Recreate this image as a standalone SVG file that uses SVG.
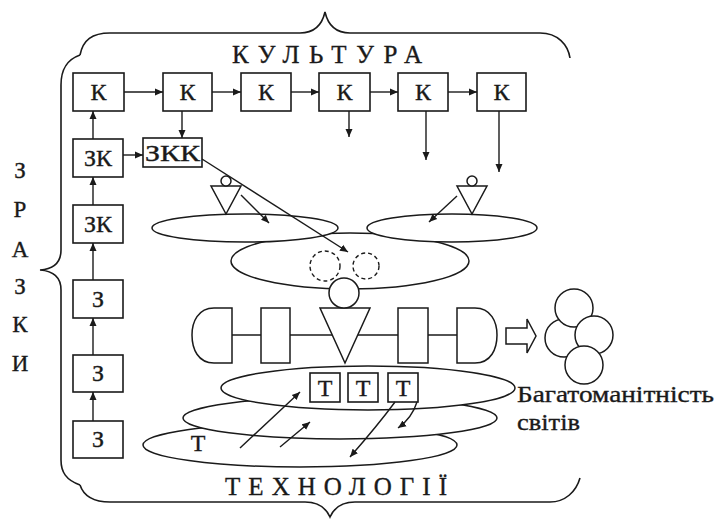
<svg xmlns="http://www.w3.org/2000/svg" width="716" height="519" viewBox="0 0 716 519">
  <defs>
    <marker id="ah" markerUnits="userSpaceOnUse" markerWidth="9" markerHeight="8" refX="8" refY="4" orient="auto">
      <path d="M0,0.5 L8,4 L0,7.5 Z" fill="#1a1a1a"/>
    </marker>
    <style>
      .ln { stroke: #1a1a1a; stroke-width: 1.4; fill: none; }
      .bx { stroke: #1a1a1a; stroke-width: 1.6; fill: #fff; }
      .sh { stroke: #1a1a1a; stroke-width: 1.5; fill: #fff; }
      .dash { stroke: #1a1a1a; stroke-width: 1.4; fill: none; stroke-dasharray: 4 3; }
      .br { stroke: #1a1a1a; stroke-width: 1.6; fill: none; }
      text { font-family: 'Liberation Serif', 'Times New Roman', serif; fill: #1a1a1a; stroke: #1a1a1a; stroke-width: 0.35; }
      .lbl { font-size: 24px; text-anchor: middle; }
      .ttl { font-size: 25px; }
      .side { font-size: 23px; text-anchor: middle; }
    </style>
  </defs>

  <!-- braces -->
  <g id="braces">
    <path class="br" d="M80,55 C83,40 92,33 110,33 L300,33 C315,33 322,25 325,12 C328,25 335,33 350,33 L540,33 C558,33 568,45 570,58"/>
    <path class="br" d="M80,55 C66,60 61,70 61,85 L61,250 C61,262 54,269 40,270 C54,271 61,278 61,290 L61,460 C61,472 66,480 80,485"/>
    <path class="br" d="M80,485 C84,497 95,502 110,502 L305,502 C318,502 326,508 330,517 C334,508 342,502 355,502 L550,502 C565,502 576,492 580,478"/>
  </g>

  <!-- titles -->
  <g id="titles">
    <text class="ttl" x="232" y="63" textLength="190" lengthAdjust="spacing">КУЛЬТУРА</text>
    <text class="ttl" x="225" y="495" textLength="222" lengthAdjust="spacing">ТЕХНОЛОГІЇ</text>
    <text class="side" x="20" y="178">З</text>
    <text class="side" x="20" y="217">Р</text>
    <text class="side" x="20" y="257">А</text>
    <text class="side" x="20" y="294">З</text>
    <text class="side" x="20" y="332">К</text>
    <text class="side" x="20" y="371">И</text>
  </g>

  <!-- culture row -->
  <g id="k1"><rect class="bx" x="73" y="73" width="51" height="38"/><text class="lbl" x="98.5" y="100">К</text></g>
  <g id="k2"><rect class="bx" x="163" y="73" width="49" height="38"/><text class="lbl" x="187.5" y="100">К</text></g>
  <g id="k3"><rect class="bx" x="241" y="73" width="50" height="38"/><text class="lbl" x="266" y="100">К</text></g>
  <g id="k4"><rect class="bx" x="319" y="73" width="51" height="38"/><text class="lbl" x="344.5" y="100">К</text></g>
  <g id="k5"><rect class="bx" x="398" y="73" width="50" height="38"/><text class="lbl" x="423" y="100">К</text></g>
  <g id="k6"><rect class="bx" x="477" y="73" width="49" height="38"/><text class="lbl" x="501.5" y="100">К</text></g>

  <!-- samples column -->
  <g id="zk1"><rect class="bx" x="73" y="139" width="50" height="38"/><text class="lbl" x="98" y="166">ЗК</text></g>
  <g id="zk2"><rect class="bx" x="73" y="205" width="50" height="38"/><text class="lbl" x="98" y="232">ЗК</text></g>
  <g id="z1"><rect class="bx" x="73" y="280" width="50" height="38"/><text class="lbl" x="98" y="307">З</text></g>
  <g id="z2"><rect class="bx" x="73" y="355" width="50" height="37"/><text class="lbl" x="98" y="381">З</text></g>
  <g id="z3"><rect class="bx" x="73" y="421" width="50" height="37"/><text class="lbl" x="98" y="447">З</text></g>
  <g id="zkk"><rect class="bx" x="143" y="138" width="59" height="29"/><text class="lbl" x="172.5" y="161" textLength="55" lengthAdjust="spacingAndGlyphs">ЗКК</text></g>

  <!-- upper field: two small ellipses over a larger one -->
  <g id="field-mid">
    <ellipse class="sh" cx="350" cy="261" rx="119" ry="28"/>
    <circle class="dash" cx="325" cy="266" r="15"/>
    <circle class="dash" cx="366" cy="266" r="13"/>
  </g>
  <g id="field-left">
    <ellipse class="sh" cx="245" cy="228" rx="93" ry="14"/>
    <path class="sh" d="M211,186 L241,186 L226,214 Z"/>
    <circle class="sh" cx="226" cy="181" r="5"/>
  </g>
  <g id="field-right">
    <ellipse class="sh" cx="452" cy="228" rx="85" ry="14"/>
    <path class="sh" d="M457,186 L487,186 L472,214 Z"/>
    <circle class="sh" cx="472" cy="181" r="5"/>
  </g>

  <!-- axis with figure -->
  <g id="axis">
    <line class="ln" x1="232" y1="335" x2="457" y2="335"/>
    <path class="sh" d="M232,308 L214,308 C198,308 192,322 192,335 C192,349 198,363 214,363 L232,363 Z"/>
    <rect class="sh" x="261" y="308" width="29" height="55"/>
    <rect class="sh" x="398" y="308" width="30" height="55"/>
    <path class="sh" d="M457,308 L475,308 C491,308 497,322 497,335 C497,349 491,363 475,363 L457,363 Z"/>
    <path class="sh" d="M320,308 L370,308 L345,363 Z"/>
    <circle class="sh" cx="344" cy="293" r="15"/>
  </g>

  <!-- outcome -->
  <g id="outcome">
    <path class="sh" d="M506,328 L527,328 L527,319 L536,336 L527,353 L527,344 L506,344 Z"/>
    <circle class="sh" cx="564" cy="338" r="19"/>
    <circle class="sh" cx="574" cy="308" r="19"/>
    <circle class="sh" cx="594" cy="335" r="19"/>
    <circle class="sh" cx="584" cy="365" r="19"/>
    <text x="517" y="402" font-size="23" textLength="197" lengthAdjust="spacingAndGlyphs">Багатоманітність</text>
    <text x="517" y="430" font-size="23" textLength="63" lengthAdjust="spacingAndGlyphs">світів</text>
  </g>

  <!-- technology layers -->
  <g id="tech">
    <ellipse class="sh" cx="300" cy="445" rx="157" ry="22"/>
    <ellipse class="sh" cx="340" cy="418" rx="157" ry="21"/>
    <ellipse class="sh" cx="368" cy="388" rx="147" ry="22"/>
    <text class="lbl" x="198" y="451">Т</text>
  </g>
  <g id="t1"><rect class="bx" x="310" y="373" width="30" height="29"/><text class="lbl" x="325" y="396">Т</text></g>
  <g id="t2"><rect class="bx" x="348" y="373" width="30" height="29"/><text class="lbl" x="363" y="396">Т</text></g>
  <g id="t3"><rect class="bx" x="388" y="373" width="30" height="29"/><text class="lbl" x="403" y="396">Т</text></g>

  <!-- connectors -->
  <g id="connectors" class="ln" marker-end="url(#ah)">
    <line x1="124" y1="92" x2="163" y2="92"/>
    <line x1="212" y1="92" x2="241" y2="92"/>
    <line x1="291" y1="92" x2="319" y2="92"/>
    <line x1="370" y1="92" x2="398" y2="92"/>
    <line x1="448" y1="92" x2="477" y2="92"/>
    <line x1="182" y1="111" x2="182" y2="138"/>
    <line x1="349" y1="111" x2="349" y2="137"/>
    <line x1="426" y1="111" x2="426" y2="160"/>
    <line x1="499" y1="111" x2="499" y2="172"/>
    <line x1="123" y1="155" x2="143" y2="155"/>
    <line x1="93" y1="139" x2="93" y2="111"/>
    <line x1="93" y1="205" x2="93" y2="177"/>
    <line x1="93" y1="280" x2="93" y2="243"/>
    <line x1="93" y1="355" x2="93" y2="318"/>
    <line x1="93" y1="421" x2="93" y2="392"/>
    <line x1="202" y1="159" x2="348" y2="252"/>
    <line x1="241" y1="195" x2="269" y2="223"/>
    <line x1="457" y1="196" x2="429" y2="222"/>
    <line x1="240" y1="448" x2="300" y2="392"/>
    <line x1="280" y1="447" x2="310" y2="422"/>
    <path d="M395,402 Q378,425 350,457"/>
    <path d="M417,402 Q412,418 398,428"/>
  </g>
</svg>
